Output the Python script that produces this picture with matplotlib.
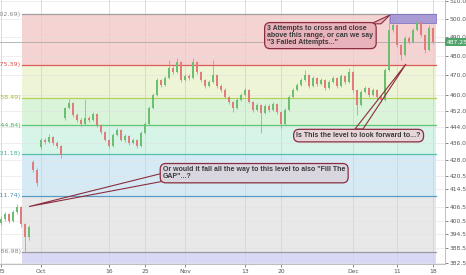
import matplotlib
matplotlib.use("Agg")
import matplotlib.pyplot as plt
from matplotlib.patches import Polygon, Rectangle

# candles, one per bar
opens = [399.5, 401.1, 403.3, 400.2, 404.4, 406.8, 398.9, 393.3, 427.3, 423.6,
         434.3, 437.7, 436.7, 439.1, 436.2, 434.8, 448.4, 453.4, 455.8, 449.9,
         447.4, 445.4, 448.4, 447.4, 450.4, 444.9, 441.5, 437.7, 434.8, 440.1,
         442.5, 437.7, 439.6, 436.2, 437.7, 434.8, 441.0, 445.4, 453.4, 459.9,
         467.5, 464.9, 468.5, 473.7, 471.6, 476.8, 467.5, 469.6, 468.5, 476.8,
         471.6, 467.5, 464.4, 466.5, 470.1, 464.4, 462.4, 458.9, 456.3, 453.4,
         457.3, 459.9, 462.4, 456.3, 452.4, 454.9, 450.9, 454.4, 452.4, 455.3,
         451.4, 445.4, 452.4, 458.9, 462.4, 464.9, 467.5, 470.1, 464.4, 468.5,
         465.4, 467.5, 463.4, 466.5, 468.5, 464.4, 469.6, 466.5, 471.6, 462.4,
         454.9, 461.4, 463.4, 459.9, 462.4, 458.9, 457.3, 472.7, 493.9, 496.7,
         485.9, 480.5, 489.6, 487.4, 493.9, 498.3, 491.2, 483.2, 495.0]
highs = [402.5, 404.2, 404.0, 405.3, 407.9, 407.2, 399.5, 398.8, 428.2, 424.3,
         438.6, 438.5, 440.6, 439.6, 437.0, 435.3, 454.0, 457.8, 456.3, 450.9,
         448.4, 457.8, 449.4, 451.4, 450.9, 445.4, 442.0, 438.2, 440.9, 443.5,
         443.0, 440.6, 440.1, 438.8, 438.2, 441.8, 446.4, 454.4, 460.9, 468.5,
         468.0, 469.6, 477.9, 474.7, 478.9, 477.3, 470.6, 470.6, 478.9, 477.3,
         472.2, 468.0, 467.5, 477.9, 470.6, 465.4, 463.4, 459.4, 456.8, 458.3,
         460.9, 463.4, 462.9, 456.8, 455.8, 455.3, 455.3, 455.3, 456.3, 455.8,
         451.9, 453.4, 459.9, 463.4, 465.9, 468.5, 472.7, 470.6, 469.6, 469.0,
         468.5, 468.0, 467.5, 469.6, 469.0, 470.6, 470.1, 473.7, 472.2, 462.9,
         462.4, 464.4, 463.9, 463.4, 462.9, 459.9, 473.7, 501.6, 501.6, 497.2,
         486.4, 490.6, 490.6, 494.9, 500.5, 498.8, 491.7, 496.7, 495.5]
lows = [398.6, 400.3, 399.4, 399.8, 403.6, 397.8, 387.3, 392.0, 422.5, 416.3,
        433.6, 435.8, 436.0, 435.5, 434.0, 429.1, 447.6, 452.8, 449.0, 446.6,
        444.6, 444.9, 446.4, 446.9, 444.0, 440.6, 437.0, 434.0, 434.3, 439.6,
        437.0, 436.9, 435.5, 435.6, 434.0, 434.3, 440.4, 444.9, 452.9, 459.4,
        464.0, 464.4, 468.0, 470.6, 471.0, 466.5, 466.9, 467.5, 468.0, 470.6,
        466.5, 463.4, 463.9, 465.9, 463.4, 461.4, 458.3, 455.3, 451.4, 452.9,
        456.8, 459.4, 455.8, 451.4, 451.9, 441.0, 450.4, 451.4, 451.9, 450.4,
        443.5, 444.9, 451.9, 458.3, 461.9, 464.4, 466.9, 463.4, 463.9, 464.4,
        464.9, 462.4, 462.9, 465.9, 463.4, 463.9, 465.4, 466.0, 461.4, 449.9,
        454.4, 460.9, 458.9, 459.4, 457.8, 456.3, 456.8, 472.2, 492.8, 484.8,
        477.9, 480.0, 486.4, 486.9, 493.4, 490.2, 481.6, 482.7, 486.4]
closes = [401.1, 403.3, 400.2, 404.4, 406.8, 398.9, 393.3, 397.6, 423.6, 417.6,
          437.7, 436.7, 439.1, 436.2, 434.8, 430.6, 453.4, 455.8, 449.9, 447.4,
          445.4, 448.4, 447.4, 450.4, 444.9, 441.5, 437.7, 434.8, 440.1, 442.5,
          437.7, 439.6, 436.2, 437.7, 434.8, 441.0, 445.4, 453.4, 459.9, 467.5,
          464.9, 468.5, 473.7, 471.6, 476.8, 467.5, 469.6, 468.5, 476.8, 471.6,
          467.5, 464.4, 466.5, 470.1, 464.4, 462.4, 458.9, 456.3, 453.4, 457.3,
          459.9, 462.4, 456.3, 452.4, 454.9, 450.9, 454.4, 452.4, 455.3, 451.4,
          445.4, 452.4, 458.9, 462.4, 464.9, 467.5, 470.1, 464.4, 468.5, 465.4,
          467.5, 463.4, 466.5, 468.5, 464.4, 469.6, 466.5, 471.6, 462.4, 454.9,
          461.4, 463.4, 459.9, 462.4, 458.9, 457.3, 472.7, 493.9, 496.7, 485.9,
          480.5, 489.6, 487.4, 493.9, 498.3, 491.2, 483.2, 495.0, 487.25]

tick_pos = [0, 10, 27, 36, 46, 61, 70, 88, 99, 108]
tick_text = ["25", "Oct", "16", "25", "Nov", "13", "20", "Dec", "11", "18"]

price_ticks = [510, 500, 490, 480, 470, 460, 452, 444, 436, 428,
               420.5, 414.5, 406.5, 400.5, 394.5, 388.5, 382.5]

fib_ratios = ["0", "0.236", "0.382", "0.5", "0.618", "0.786", "1"]
fib_levels = [502.69, 475.39, 458.49, 444.84, 431.18, 411.74, 386.98]
fib_ext = 355.5  # 1.272, below the visible range
line_colors = ["#9e9e9e", "#dd5a56", "#b4cf5a", "#5cc870", "#5abfa8", "#5a9bc2", "#9a9aa8"]
text_colors = ["#8a8a8a", "#d9534f", "#9cbd30", "#45b45a", "#3fae95", "#4a8fb8", "#888888"]
band_colors = ["#f6d3d3", "#eef4d6", "#daf4da", "#d6f4e8", "#d6eaf5", "#e8e8e8", "#d9d9f6"]

fib_start, fib_end = 5.25, 108.75

fig = plt.figure(figsize=(4.66, 2.75), dpi=100)
ax = fig.add_axes([0, 11 / 275, 445 / 466, 264 / 275])
ax.set_yscale("log")
ax.set_ylim(381.9, 510.5)
ax.set_xlim(-0.25, 111)
ax.set_axisbelow(True)

# fib bands and levels
edges = fib_levels + [fib_ext]
for k in range(len(band_colors)):
    ax.fill_between([fib_start, fib_end], edges[k + 1], edges[k],
                    color=band_colors[k], lw=0, zorder=0.2)
for k, lev in enumerate(fib_levels):
    ax.plot([fib_start, fib_end], [lev, lev], color=line_colors[k], lw=0.9, zorder=0.6)
    ax.text(fib_start - 0.2, lev, "%s(%.2f)" % (fib_ratios[k], lev), color=text_colors[k],
            fontsize=4.6, ha="right", va="center")

ax.grid(axis="x", color="#d4d4d4", lw=0.6)
ax.grid(axis="y", color="#e2e2e2", lw=0.4)

# last price line
ax.axhline(closes[-1], color="#aaaaaa", lw=0.6, zorder=0.7)

# purple range box
ax.add_patch(Rectangle((97.25, 497.7), fib_end - 97.25, fib_levels[0] - 497.7,
                       facecolor="#9d92d6", edgecolor="#7a6cc4", lw=0.6, alpha=0.85, zorder=1.5))

# candles
for i in range(len(closes)):
    up = closes[i] >= opens[i]
    c = "#6cbf6f" if up else "#e27b7b"
    ax.vlines(i, lows[i], highs[i], color=c, lw=0.5, zorder=2)
    lo, hi = min(opens[i], closes[i]), max(opens[i], closes[i])
    ax.bar(i, max(hi - lo, 0.3), bottom=lo, width=0.5, color=c, lw=0, zorder=2.1)

# callouts
edge = "#8c2d3f"
font = dict(family="Liberation Sans", weight="bold", color="#3a3a3a", fontsize=5.0)
box = "round,pad=0.4,rounding_size=0.8"

ax.add_patch(Polygon([(92.5, 497.3), (95.0, 497.3), (97.25, 502.2)], closed=True,
                     facecolor="#e8b3ba", edgecolor=edge, lw=0.8, zorder=3))
ax.text(66.6, 490.9, "3 Attempts to cross and close\nabove this range, or can we say\n\"3 Failed Attempts...\"",
        ha="left", va="center", linespacing=0.95, zorder=4, **font,
        bbox=dict(boxstyle=box, facecolor="#e8b3ba", edgecolor=edge, lw=0.9))

ax.add_patch(Polygon([(88.5, 443.0), (90.5, 443.0), (101.25, 475.8)], closed=True,
                     facecolor="none", edgecolor=edge, lw=0.8, zorder=3))
ax.text(89.4, 439.8, "Is This the level to look forward to...?", ha="center", va="center",
        zorder=4, **font,
        bbox=dict(boxstyle=box, facecolor="#e6d6da", edgecolor=edge, lw=0.9))

ax.add_patch(Polygon([(40.0, 421.8), (40.0, 418.1), (7.0, 406.8)], closed=True,
                     facecolor="none", edgecolor=edge, lw=0.8, zorder=3))
ax.text(40.5, 422.0, "Or would it fall all the way to this level to also \"Fill The\nGAP\"...?",
        ha="left", va="center", linespacing=0.95, zorder=4, **font,
        bbox=dict(boxstyle=box, facecolor="#dad6e0", edgecolor=edge, lw=0.9))

# axes styling
ax.yaxis.tick_right()
ax.set_yticks(price_ticks)
ax.set_yticklabels(["%.2f" % v for v in price_ticks])
ax.yaxis.set_minor_locator(matplotlib.ticker.NullLocator())
ax.set_xticks(tick_pos)
ax.set_xticklabels(tick_text)
ax.tick_params(axis="both", labelsize=4.3, colors="#555555", length=2, width=0.5, pad=1.5)
for s in ["top", "left"]:
    ax.spines[s].set_visible(False)
for s in ["right", "bottom"]:
    ax.spines[s].set_color("#bdbdbd")
    ax.spines[s].set_linewidth(0.7)

ax.text(1.003, closes[-1], "%.2f" % closes[-1], transform=ax.get_yaxis_transform(),
        ha="left", va="center", fontsize=4.3, color="white", clip_on=False,
        bbox=dict(boxstyle="square,pad=0.25", facecolor="#4fa56b", edgecolor="none"))

fig.savefig("out.png", dpi=100)
